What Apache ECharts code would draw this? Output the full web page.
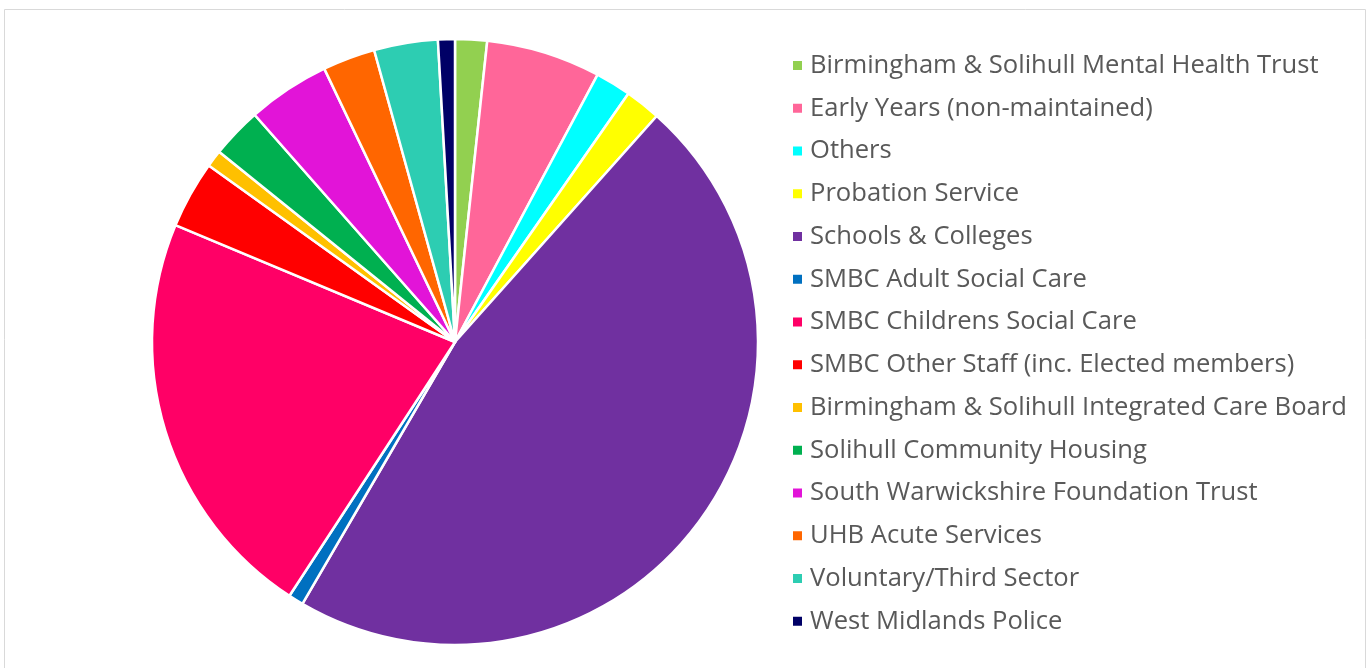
<!DOCTYPE html>
<html>
<head>
<meta charset="utf-8">
<script src="https://cdn.jsdelivr.net/npm/echarts@6/dist/echarts.min.js"></script>
<style>
  html, body { margin: 0; padding: 0; background: #fff; }
  #chart { width: 1371px; height: 668px; }
</style>
</head>
<body>
<div id="chart"></div>
<script>
const categories = [
  "Birmingham & Solihull Mental Health Trust",
  "Early Years (non-maintained)",
  "Others",
  "Probation Service",
  "Schools & Colleges",
  "SMBC Adult Social Care",
  "SMBC Childrens Social Care",
  "SMBC Other Staff (inc. Elected members)",
  "Birmingham & Solihull Integrated Care Board",
  "Solihull Community Housing",
  "South Warwickshire Foundation Trust",
  "UHB Acute Services",
  "Voluntary/Third Sector",
  "West Midlands Police"
];
const values = [1.7, 6.1, 1.9, 1.9, 46.8, 0.8, 22.1, 3.6, 0.9, 2.7, 4.4, 2.8, 3.4, 0.9];
const colors = [
  "#92d050", "#ff6699", "#00ffff", "#ffff00", "#7030a0", "#0070c0", "#ff0066",
  "#ff0000", "#ffc000", "#00b050", "#e214d8", "#ff6600", "#2dcdb2", "#000066"
];

const chart = echarts.init(document.getElementById("chart"));
chart.setOption({
  animation: false,
  color: colors,
  graphic: [
    {
      type: "rect",
      shape: { x: 4.5, y: 9.5, width: 1361, height: 680 },
      style: { fill: "none", stroke: "#d9d9d9", lineWidth: 1 },
      silent: true
    }
  ],
  legend: {
    orient: "vertical",
    left: 786,
    top: 46.5,
    icon: "rect",
    itemWidth: 11,
    itemHeight: 11,
    itemGap: 14.75,
    textStyle: {
      fontFamily: "Open Sans",
      fontSize: 25.6,
      lineHeight: 28,
      color: "#595959",
      padding: [0, 0, 0, 2]
    },
    data: categories
  },
  series: [
    {
      type: "pie",
      center: [455, 342],
      radius: ["0%", 303],
      startAngle: 90,
      clockwise: true,
      label: { show: false },
      labelLine: { show: false },
      itemStyle: { borderColor: "#fff", borderWidth: 2.5 },
      emphasis: { disabled: true },
      data: categories.map((name, i) => ({ name, value: values[i] }))
    }
  ]
});
</script>
</body>
</html>
